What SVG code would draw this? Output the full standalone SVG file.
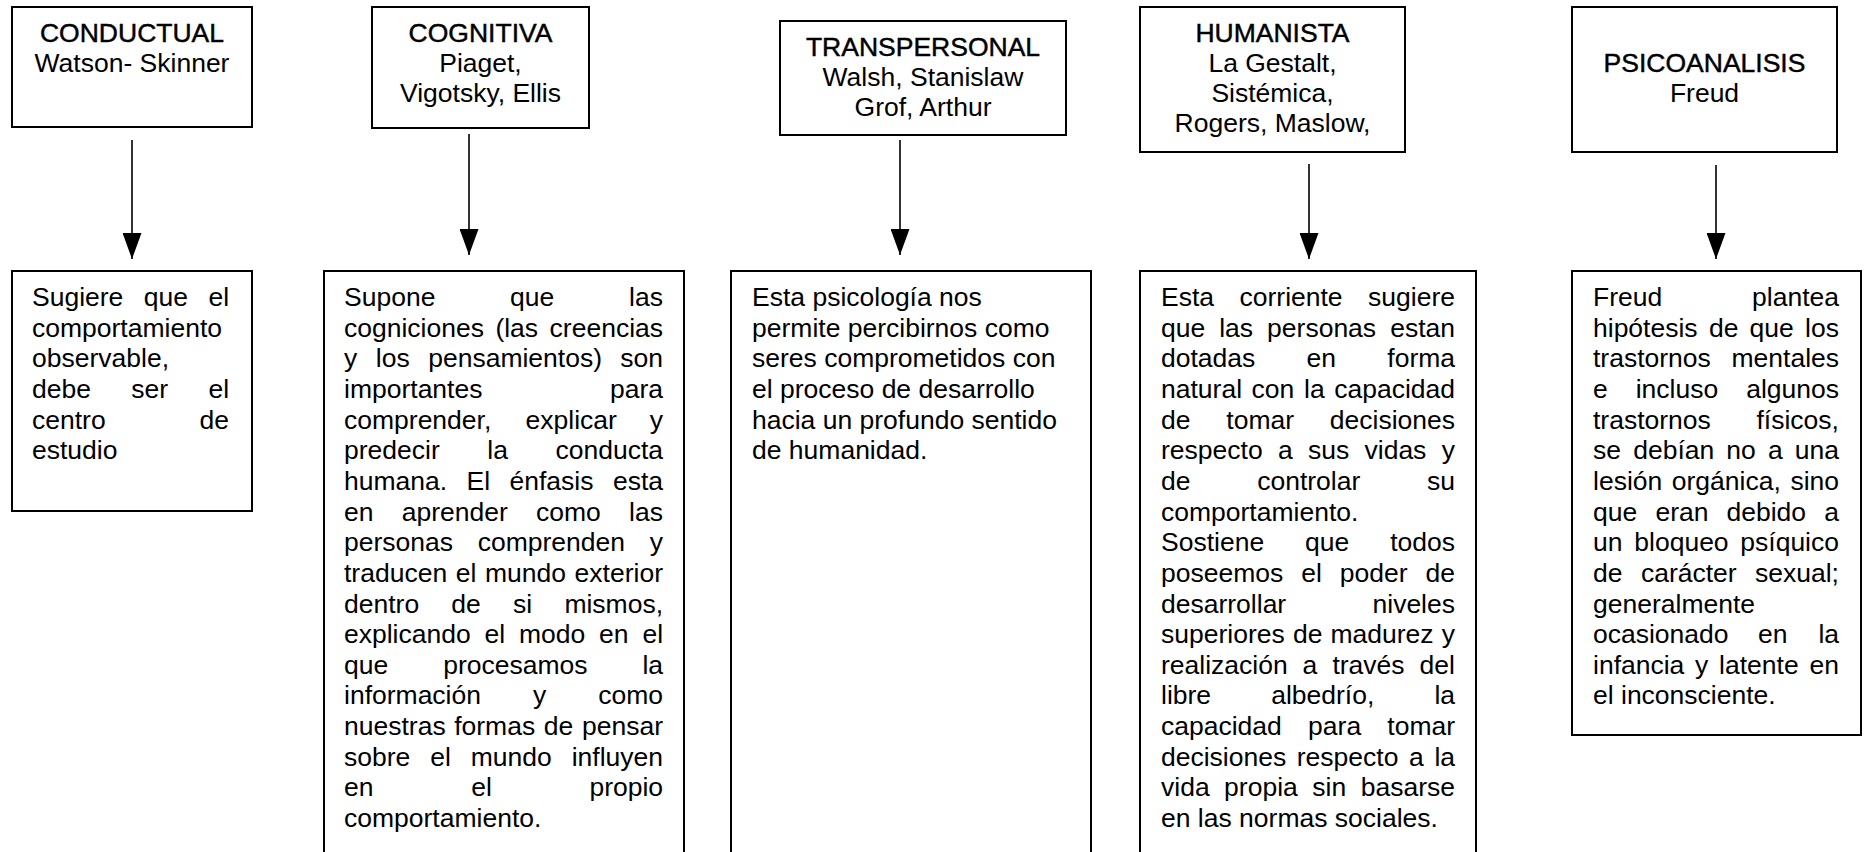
<svg xmlns="http://www.w3.org/2000/svg" width="1864" height="852" viewBox="0 0 1864 852">
<style>
.box{fill:#fff;stroke:#000;stroke-width:2}
.t{font-family:"Liberation Sans",Arial,"DejaVu Sans",sans-serif;font-size:26.5px;fill:#000}
.h{text-anchor:middle}
.ttl{stroke:#000;stroke-width:0.45}
.conn line{stroke:#000;stroke-width:1.6}
</style>
<defs>
<marker id="ah" markerUnits="userSpaceOnUse" markerWidth="26" markerHeight="19" refX="26" refY="9.5" orient="auto" viewBox="0 0 26 19">
<path d="M0,0 L26,9.5 L0,19 Z" fill="#000"/>
</marker>
</defs>
<rect x="0" y="0" width="1864" height="852" fill="#fff"/>

<g id="conductual">
<rect class="box" x="12" y="7" width="240" height="120"/>
<text class="t h ttl" x="132" y="42">CONDUCTUAL</text>
<text class="t h" x="132" y="72">Watson- Skinner</text>
</g>
<g id="cognitiva">
<rect class="box" x="372" y="7" width="217" height="121"/>
<text class="t h ttl" x="480.5" y="42">COGNITIVA</text>
<text class="t h" x="480.5" y="72">Piaget,</text>
<text class="t h" x="480.5" y="102">Vigotsky, Ellis</text>
</g>
<g id="transpersonal">
<rect class="box" x="780" y="21" width="286" height="114"/>
<text class="t h ttl" x="923" y="56">TRANSPERSONAL</text>
<text class="t h" x="923" y="86">Walsh, Stanislaw</text>
<text class="t h" x="923" y="116">Grof, Arthur</text>
</g>
<g id="humanista">
<rect class="box" x="1140" y="7" width="265" height="145"/>
<text class="t h ttl" x="1272.5" y="42">HUMANISTA</text>
<text class="t h" x="1272.5" y="72">La Gestalt,</text>
<text class="t h" x="1272.5" y="102">Sistémica,</text>
<text class="t h" x="1272.5" y="132">Rogers, Maslow,</text>
</g>
<g id="psicoanalisis">
<rect class="box" x="1572" y="7" width="265" height="145"/>
<text class="t h ttl" x="1704.5" y="72">PSICOANALISIS</text>
<text class="t h" x="1704.5" y="102">Freud</text>
</g>

<g id="conductual-desc">
<rect class="box" x="12" y="271" width="240" height="240"/>
<text class="t" y="306"><tspan x="32">Sugiere</tspan><tspan x="143.8">que</tspan><tspan x="208.4">el</tspan></text>
<text class="t" x="32" y="337">comportamiento</text>
<text class="t" x="32" y="367">observable,</text>
<text class="t" y="398"><tspan x="32">debe</tspan><tspan x="131.3">ser</tspan><tspan x="208.4">el</tspan></text>
<text class="t" y="429"><tspan x="32">centro</tspan><tspan x="199.5">de</tspan></text>
<text class="t" x="32" y="459">estudio</text>
</g>

<g id="cognitiva-desc">
<rect class="box" x="324" y="271" width="360" height="600"/>
<text class="t" y="306"><tspan x="344">Supone</tspan><tspan x="510.1">que</tspan><tspan x="629.1">las</tspan></text>
<text class="t" y="337"><tspan x="344">cogniciones</tspan><tspan x="495.4">(las</tspan><tspan x="549.6">creencias</tspan></text>
<text class="t" y="367"><tspan x="344">y</tspan><tspan x="375.8">los</tspan><tspan x="428.2">pensamientos)</tspan><tspan x="620.3">son</tspan></text>
<text class="t" y="398"><tspan x="344">importantes</tspan><tspan x="610">para</tspan></text>
<text class="t" y="429"><tspan x="344">comprender,</tspan><tspan x="525.6">explicar</tspan><tspan x="649.8">y</tspan></text>
<text class="t" y="459"><tspan x="344">predecir</tspan><tspan x="487.3">la</tspan><tspan x="555.5">conducta</tspan></text>
<text class="t" y="490"><tspan x="344">humana.</tspan><tspan x="466.5">El</tspan><tspan x="509.5">énfasis</tspan><tspan x="612.9">esta</tspan></text>
<text class="t" y="521"><tspan x="344">en</tspan><tspan x="401.7">aprender</tspan><tspan x="536">como</tspan><tspan x="629.1">las</tspan></text>
<text class="t" y="551"><tspan x="344">personas</tspan><tspan x="477.7">comprenden</tspan><tspan x="649.8">y</tspan></text>
<text class="t" y="582"><tspan x="344">traducen</tspan><tspan x="455.7">el</tspan><tspan x="484.9">mundo</tspan><tspan x="574.6">exterior</tspan></text>
<text class="t" y="613"><tspan x="344">dentro</tspan><tspan x="451.3">de</tspan><tspan x="513">si</tspan><tspan x="564.4">mismos,</tspan></text>
<text class="t" y="643"><tspan x="344">explicando</tspan><tspan x="484.5">el</tspan><tspan x="518.9">modo</tspan><tspan x="599">en</tspan><tspan x="642.4">el</tspan></text>
<text class="t" y="674"><tspan x="344">que</tspan><tspan x="443.2">procesamos</tspan><tspan x="642.4">la</tspan></text>
<text class="t" y="704"><tspan x="344">información</tspan><tspan x="533">y</tspan><tspan x="598.2">como</tspan></text>
<text class="t" y="735"><tspan x="344">nuestras</tspan><tspan x="454.2">formas</tspan><tspan x="543.8">de</tspan><tspan x="582">pensar</tspan></text>
<text class="t" y="766"><tspan x="344">sobre</tspan><tspan x="430.2">el</tspan><tspan x="470.7">mundo</tspan><tspan x="571.7">influyen</tspan></text>
<text class="t" y="796"><tspan x="344">en</tspan><tspan x="471.2">el</tspan><tspan x="589.4">propio</tspan></text>
<text class="t" x="344" y="827">comportamiento.</text>
</g>

<g id="transpersonal-desc">
<rect class="box" x="731" y="271" width="360" height="600"/>
<text class="t" x="752" y="306">Esta psicología nos</text>
<text class="t" x="752" y="337">permite percibirnos como</text>
<text class="t" x="752" y="367">seres comprometidos con</text>
<text class="t" x="752" y="398">el proceso de desarrollo</text>
<text class="t" x="752" y="429">hacia un profundo sentido</text>
<text class="t" x="752" y="459">de humanidad.</text>
</g>

<g id="humanista-desc">
<rect class="box" x="1140" y="271" width="336" height="600"/>
<text class="t" y="306"><tspan x="1161">Esta</tspan><tspan x="1239.5">corriente</tspan><tspan x="1368.1">sugiere</tspan></text>
<text class="t" y="337"><tspan x="1161">que</tspan><tspan x="1219.2">las</tspan><tspan x="1267.1">personas</tspan><tspan x="1390.2">estan</tspan></text>
<text class="t" y="367"><tspan x="1161">dotadas</tspan><tspan x="1306.6">en</tspan><tspan x="1387.3">forma</tspan></text>
<text class="t" y="398"><tspan x="1161">natural</tspan><tspan x="1251.6">con</tspan><tspan x="1304">la</tspan><tspan x="1334.2">capacidad</tspan></text>
<text class="t" y="429"><tspan x="1161">de</tspan><tspan x="1226.3">tomar</tspan><tspan x="1329.8">decisiones</tspan></text>
<text class="t" y="459"><tspan x="1161">respecto</tspan><tspan x="1277.9">a</tspan><tspan x="1308">sus</tspan><tspan x="1364.5">vidas</tspan><tspan x="1441.8">y</tspan></text>
<text class="t" y="490"><tspan x="1161">de</tspan><tspan x="1257.2">controlar</tspan><tspan x="1427">su</tspan></text>
<text class="t" x="1161" y="521">comportamiento.</text>
<text class="t" y="551"><tspan x="1161">Sostiene</tspan><tspan x="1305.1">que</tspan><tspan x="1390.2">todos</tspan></text>
<text class="t" y="582"><tspan x="1161">poseemos</tspan><tspan x="1301.2">el</tspan><tspan x="1339.7">poder</tspan><tspan x="1425.5">de</tspan></text>
<text class="t" y="613"><tspan x="1161">desarrollar</tspan><tspan x="1372.5">niveles</tspan></text>
<text class="t" y="643"><tspan x="1161">superiores</tspan><tspan x="1292.9">de</tspan><tspan x="1330.5">madurez</tspan><tspan x="1441.8">y</tspan></text>
<text class="t" y="674"><tspan x="1161">realización</tspan><tspan x="1302.6">a</tspan><tspan x="1332.4">través</tspan><tspan x="1419.6">del</tspan></text>
<text class="t" y="704"><tspan x="1161">libre</tspan><tspan x="1271.2">albedrío,</tspan><tspan x="1434.4">la</tspan></text>
<text class="t" y="735"><tspan x="1161">capacidad</tspan><tspan x="1308.1">para</tspan><tspan x="1387.3">tomar</tspan></text>
<text class="t" y="766"><tspan x="1161">decisiones</tspan><tspan x="1296.8">respecto</tspan><tspan x="1409.1">a</tspan><tspan x="1434.4">la</tspan></text>
<text class="t" y="796"><tspan x="1161">vida</tspan><tspan x="1224.1">propia</tspan><tspan x="1312.3">sin</tspan><tspan x="1360.7">basarse</tspan></text>
<text class="t" x="1161" y="827">en las normas sociales.</text>
</g>

<g id="psicoanalisis-desc">
<rect class="box" x="1572" y="271" width="289" height="464"/>
<text class="t" y="306"><tspan x="1593">Freud</tspan><tspan x="1752.1">plantea</tspan></text>
<text class="t" y="337"><tspan x="1593">hipótesis</tspan><tspan x="1708.9">de</tspan><tspan x="1749.6">que</tspan><tspan x="1805.1">los</tspan></text>
<text class="t" y="367"><tspan x="1593">trastornos</tspan><tspan x="1731.5">mentales</tspan></text>
<text class="t" y="398"><tspan x="1593">e</tspan><tspan x="1635.7">incluso</tspan><tspan x="1746.2">algunos</tspan></text>
<text class="t" y="429"><tspan x="1593">trastornos</tspan><tspan x="1756.5">físicos,</tspan></text>
<text class="t" y="459"><tspan x="1593">se</tspan><tspan x="1633.2">debían</tspan><tspan x="1726.3">no</tspan><tspan x="1768">a</tspan><tspan x="1794.8">una</tspan></text>
<text class="t" y="490"><tspan x="1593">lesión</tspan><tspan x="1671.8">orgánica,</tspan><tspan x="1790.4">sino</tspan></text>
<text class="t" y="521"><tspan x="1593">que</tspan><tspan x="1655.4">eran</tspan><tspan x="1726.5">debido</tspan><tspan x="1824.3">a</tspan></text>
<text class="t" y="551"><tspan x="1593">un</tspan><tspan x="1634.3">bloqueo</tspan><tspan x="1740.3">psíquico</tspan></text>
<text class="t" y="582"><tspan x="1593">de</tspan><tspan x="1640.9">carácter</tspan><tspan x="1755">sexual;</tspan></text>
<text class="t" x="1593" y="613">generalmente</text>
<text class="t" y="643"><tspan x="1593">ocasionado</tspan><tspan x="1758">en</tspan><tspan x="1818.4">la</tspan></text>
<text class="t" y="674"><tspan x="1593">infancia</tspan><tspan x="1695.1">y</tspan><tspan x="1719.1">latente</tspan><tspan x="1809.5">en</tspan></text>
<text class="t" x="1593" y="704">el inconsciente.</text>
</g>

<g id="connectors" class="conn">
<line x1="132" y1="140" x2="132" y2="259" marker-end="url(#ah)"/>
<line x1="469" y1="134" x2="469" y2="255" marker-end="url(#ah)"/>
<line x1="900" y1="140" x2="900" y2="255" marker-end="url(#ah)"/>
<line x1="1309" y1="164" x2="1309" y2="259" marker-end="url(#ah)"/>
<line x1="1716" y1="165" x2="1716" y2="259" marker-end="url(#ah)"/>
</g>
</svg>
